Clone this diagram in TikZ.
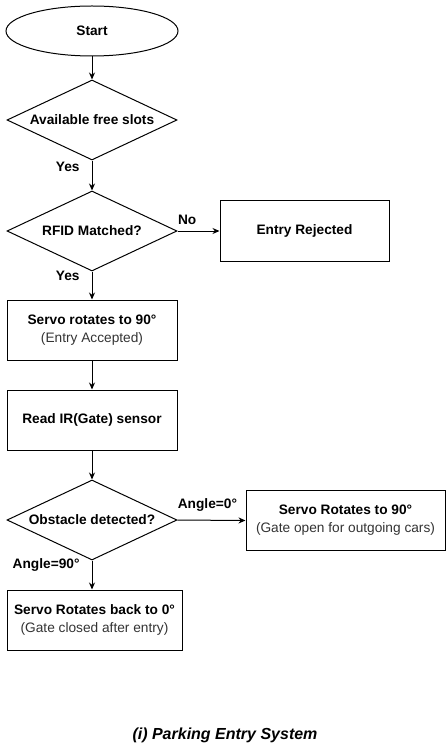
\documentclass[tikz,border=0pt]{standalone}
\usepackage{fontspec}
\setmainfont{Liberation Sans}
\usetikzlibrary{shapes.geometric,arrows.meta,positioning}
\begin{document}
\begin{tikzpicture}[x=1pt,y=-1pt,line width=1pt,line join=miter,>={Stealth[length=7pt,width=6pt]}]
			\tikzset{
				startnode/.style={ellipse,draw,minimum width=172pt,minimum height=50pt,inner sep=0pt,font=\fontsize{13.7}{16}\selectfont\bfseries},
				decision/.style={diamond,draw,aspect=2.1,inner sep=0pt,minimum width=170pt,minimum height=80pt,font=\fontsize{13.7}{16}\selectfont\bfseries},
				process/.style={rectangle,draw,minimum width=170pt,minimum height=60pt,inner sep=0pt,align=center,font=\fontsize{13.7}{18}\selectfont\bfseries},
				lbl/.style={font=\fontsize{13.7}{16}\selectfont\bfseries,inner sep=0pt}
			}
			\useasboundingbox (0,0) rectangle (446,751);
			\node[startnode] (start) at (92,31) {Start};
			\node[decision] (slots) at (92,120) {Available free slots};
			\node[decision] (rfid) at (92,231) {RFID Matched?};
			\node[process,minimum width=169pt] (reject) at (304.5,231) {Entry Rejected};
			\node[process] (accept) at (92,330) {Servo rotates to 90°\\{\mdseries\color{black!80}(Entry Accepted)}};
			\node[process] (readir) at (92,420) {Read IR(Gate) sensor};
			\node[decision] (obst) at (92,520) {Obstacle detected?};
			\node[process,minimum width=199pt] (open) at (345.5,520.5) {Servo Rotates to 90°\\{\mdseries\color{black!80}(Gate open for outgoing cars)}};
			\node[process,minimum width=175pt] (close) at (94.5,620) {Servo Rotates back to 0°\\{\mdseries\color{black!80}(Gate closed after entry)}};
			\node[font=\fontsize{16}{18}\selectfont\bfseries\itshape] (caption) at (225,735) {(i) Parking Entry System};
			\draw[->] (start) -- (slots);
			\draw[->] (slots) -- node[lbl,pos=0.2,left=12pt] {Yes} (rfid);
			\draw[->] (rfid.east) -- node[lbl,pos=0.23,above=6pt] {No} (reject.west);
			\draw[->] (rfid) -- node[lbl,pos=0.17,left=12pt] {Yes} (accept);
			\draw[->] (accept) -- (readir);
			\draw[->] (readir) -- (obst);
			\draw[->] (obst.east) -- node[lbl,pos=0.44,above=8pt] {Angle=0°} (open.west);
			\draw[->] (obst.south) -- node[lbl,pos=0.17,left=12pt] {Angle=90°} (obst.south |- close.north);
	\end{tikzpicture}
\end{document}
